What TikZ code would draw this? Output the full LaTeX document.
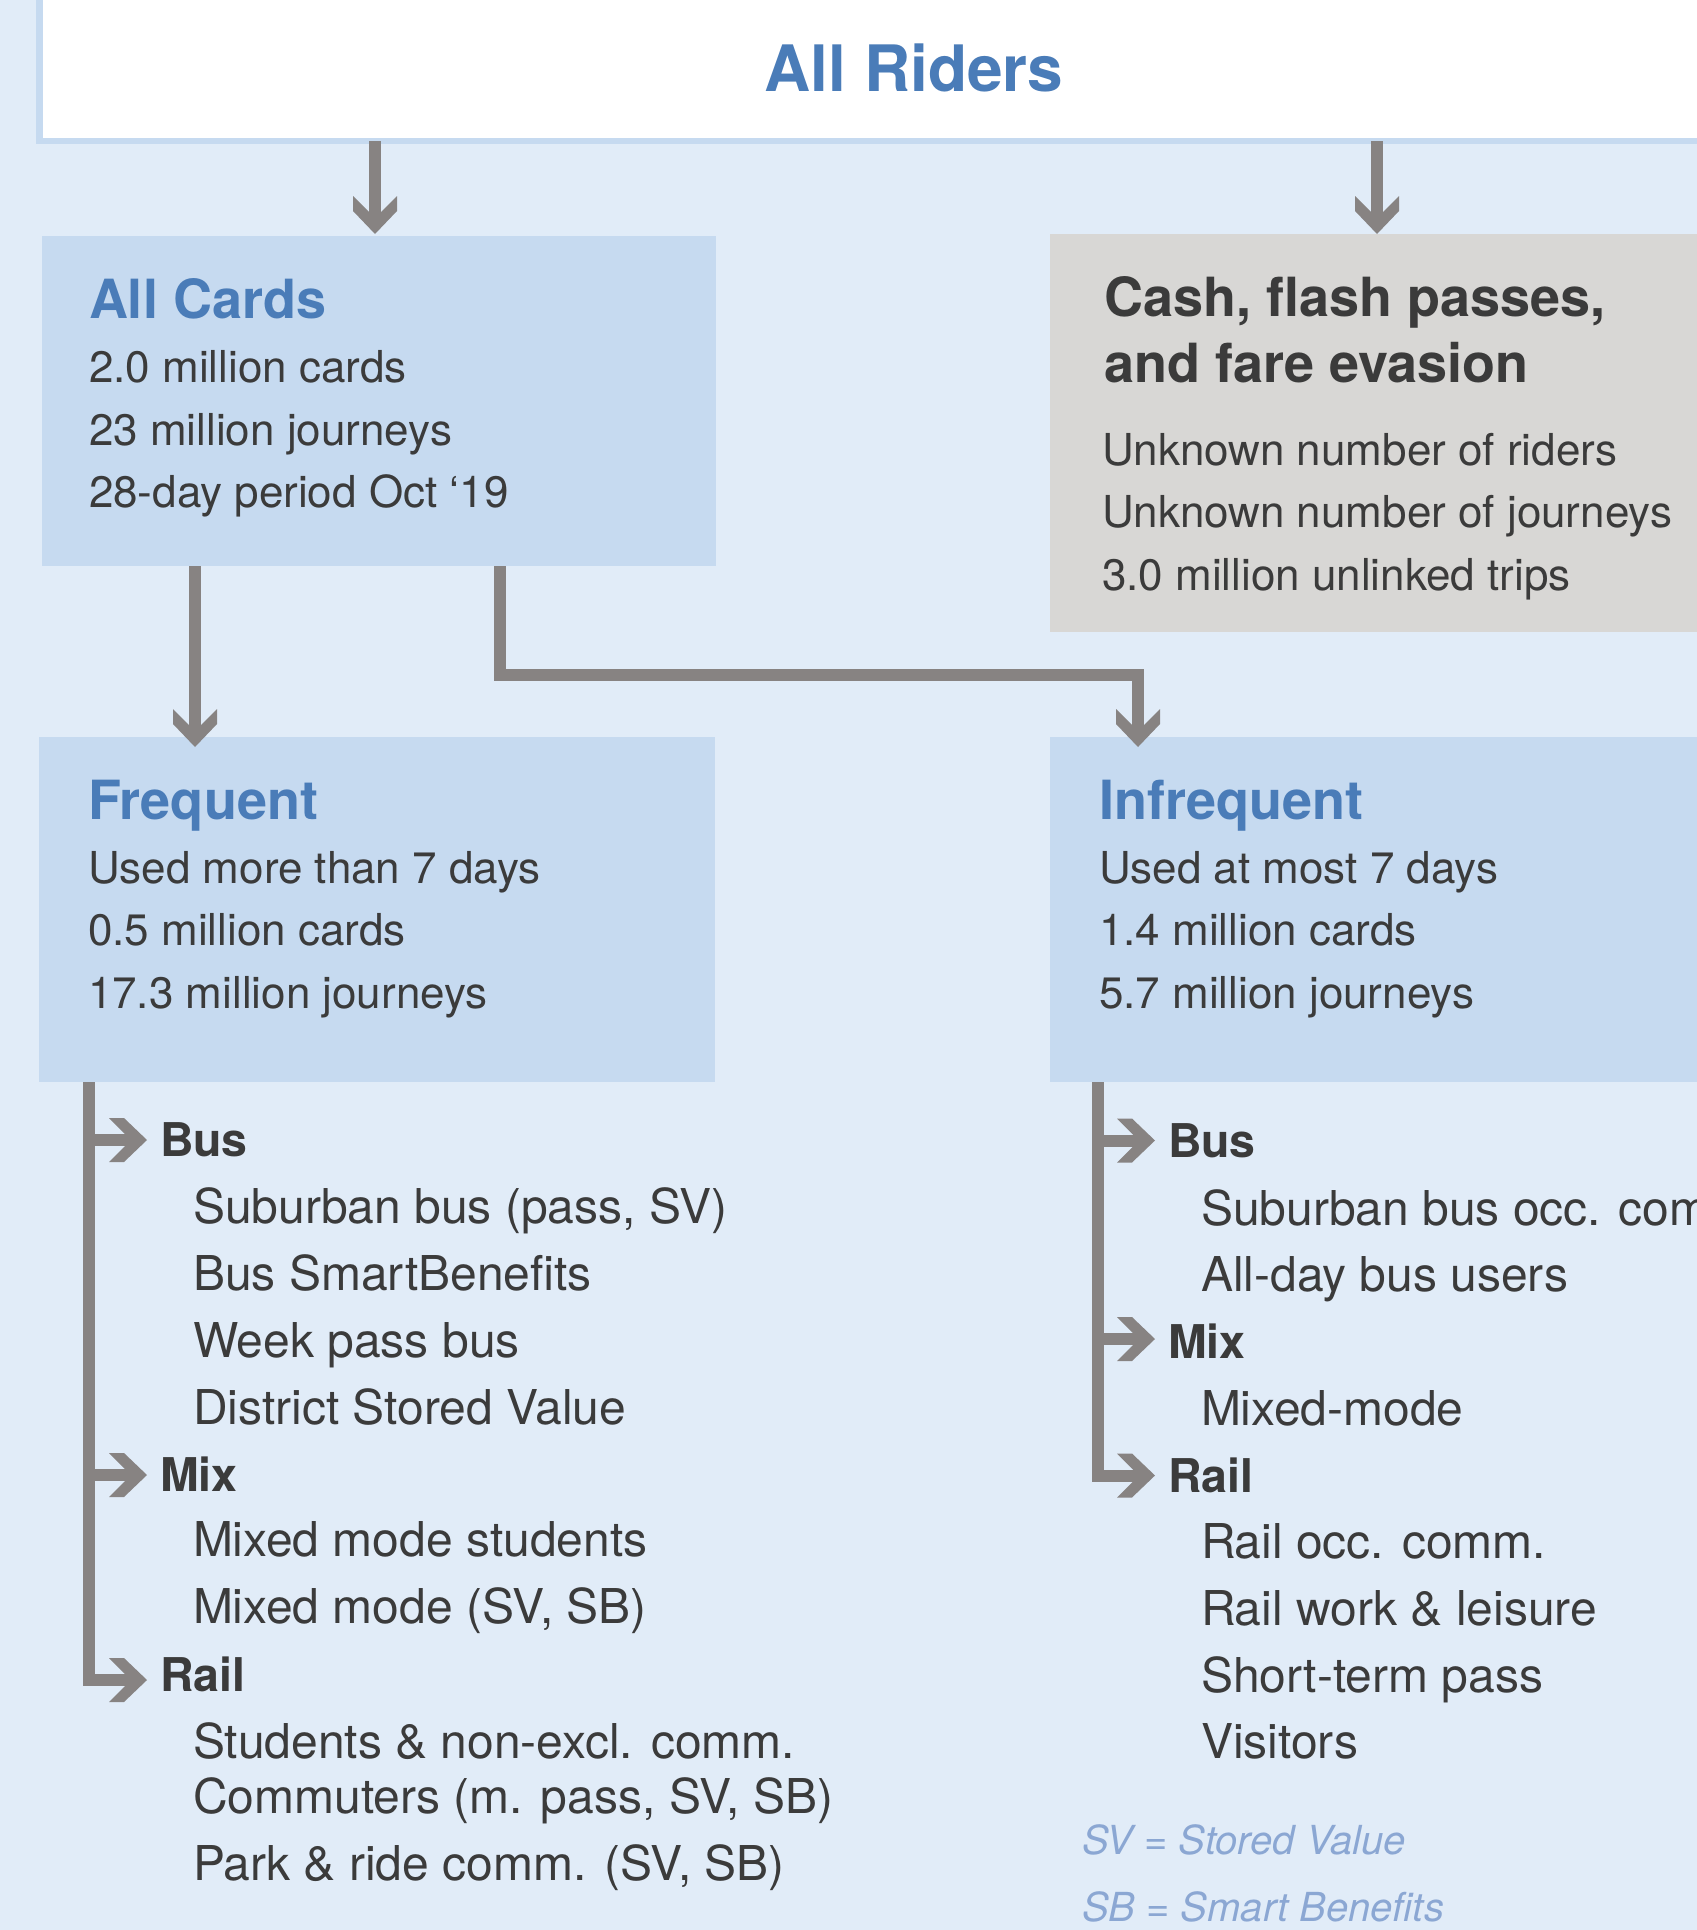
\documentclass[tikz,border=0pt]{standalone}
\usepackage{fontspec}
\setmainfont{TeX Gyre Heros}
\usetikzlibrary{arrows.meta}
\definecolor{bgblue}{HTML}{E1ECF8}
\definecolor{boxblue}{HTML}{C6DAF0}
\definecolor{graybox}{HTML}{D8D7D5}
\definecolor{arrowgray}{HTML}{878382}
\definecolor{titleblue}{HTML}{4A7CB8}
\definecolor{textdark}{HTML}{3B3B3B}
\definecolor{legendblue}{HTML}{8BA7D3}
\pgfdeclarearrow{
  name = Chev,
  setup code = {
    \pgfarrowssettipend{0pt}
    \pgfarrowssetbackend{-38pt}
    \pgfarrowssetlineend{-21pt}
    \pgfarrowssetvisualbackend{-22pt}
    \pgfarrowsupperhullpoint{-38pt}{22pt}
  },
  drawing code = {
    \pgfpathmoveto{\pgfqpoint{0pt}{0pt}}
    \pgfpathlineto{\pgfqpoint{-23pt}{22pt}}
    \pgfpathlineto{\pgfqpoint{-38pt}{22pt}}
    \pgfpathlineto{\pgfqpoint{-22pt}{6pt}}
    \pgfpathlineto{\pgfqpoint{-22pt}{-6pt}}
    \pgfpathlineto{\pgfqpoint{-38pt}{-22pt}}
    \pgfpathlineto{\pgfqpoint{-23pt}{-22pt}}
    \pgfpathclose
    \pgfusepathqfill
  }
}
\newcommand\ftitle{\fontsize{64}{70}\selectfont\bfseries}
\newcommand\fhead{\fontsize{54}{60}\selectfont\bfseries}
\newcommand\fbody{\fontsize{44}{50}\selectfont}
\newcommand\flist{\fontsize{48}{54}\selectfont}
\newcommand\flab{\fontsize{46.5}{52}\selectfont\bfseries}
\newcommand\fleg{\fontsize{40}{46}\selectfont\itshape}
\tikzset{
  box/.style={rectangle, inner sep=0pt, outer sep=0pt, anchor=north west, draw=none},
  txt/.style={anchor=base west, inner sep=0pt, outer sep=0pt, text=textdark},
  head/.style={txt, font=\fhead, text=titleblue},
  body/.style={txt, font=\fbody},
  item/.style={txt, font=\flist},
  lab/.style={txt, font=\flab},
  legend/.style={txt, font=\fleg, text=legendblue},
  conn/.style={line width=12pt, color=arrowgray, -{Chev[]}}
}
\begin{document}
\begin{tikzpicture}[x=1pt,y=-1pt]
\useasboundingbox (0,0) rectangle (1697,1930);
\clip (0,0) rectangle (1697,1930);
\fill[bgblue] (0,0) rectangle (1697,1930);

% boxes
\node[box, fill=white, draw=boxblue, line width=6.5pt, minimum width=1750pt, minimum height=201pt] (top) at (39.3,-60) {};
\node[box, fill=boxblue, minimum width=674pt, minimum height=330pt] (cards) at (42,236) {};
\node[box, fill=graybox, minimum width=654pt, minimum height=398pt] (cash) at (1050,234) {};
\node[box, fill=boxblue, minimum width=676pt, minimum height=345pt] (freq) at (39,737) {};
\node[box, fill=boxblue, minimum width=700pt, minimum height=345pt] (infreq) at (1050,737) {};

% title
\node[anchor=base, inner sep=0pt, font=\ftitle, text=titleblue] (ttl) at (914,91) {All Riders};

% All Cards
\node[head] (hcards) at (89,318) {All Cards};
\node[body] (c1) at (89,382) {2.0 million cards};
\node[body] (c2) at (89,445) {23 million journeys};
\node[body] (c3) at (89,507) {28-day period Oct ‘19};

% Cash
\node[txt, font=\fhead] (hcash1) at (1104,316) {Cash, flash passes,};
\node[txt, font=\fhead] (hcash2) at (1104,382) {and fare evasion};
\node[body] (u1) at (1102,465) {Unknown number of riders};
\node[body] (u2) at (1102,527) {Unknown number of journeys};
\node[body] (u3) at (1102,590) {3.0 million unlinked trips};

% Frequent
\node[head] (hfreq) at (88,819) {Frequent};
\node[body] (f1) at (88,883) {Used more than 7 days};
\node[body] (f2) at (88,945) {0.5 million cards};
\node[body] (f3) at (88,1008) {17.3 million journeys};

% Infrequent
\node[head] (hinf) at (1099,819) {Infrequent};
\node[body] (i1) at (1099,883) {Used at most 7 days};
\node[body] (i2) at (1099,945) {1.4 million cards};
\node[body] (i3) at (1099,1008) {5.7 million journeys};

% left list
\node[lab] (lbus) at (160,1156) {Bus};
\node[item] (l1) at (193,1223) {Suburban bus (pass, SV)};
\node[item] (l2) at (193,1290) {Bus SmartBenefits};
\node[item] (l3) at (193,1357) {Week pass bus};
\node[item] (l4) at (193,1424) {District Stored Value};
\node[lab] (lmix) at (160,1491) {Mix};
\node[item] (l5) at (193,1556) {Mixed mode students};
\node[item] (l6) at (193,1623) {Mixed mode (SV, SB)};
\node[lab] (lrail) at (160,1691) {Rail};
\node[item] (l7) at (193,1758) {Students \& non-excl. comm.};
\node[item] (l8) at (193,1813) {Commuters (m. pass, SV, SB)};
\node[item] (l9) at (193,1880) {Park \& ride comm. (SV, SB)};

% right list
\node[lab] (rbus) at (1168,1157) {Bus};
\node[item] (r1) at (1201,1225) {Suburban bus occ. comm.};
\node[item] (r2) at (1201,1291) {All-day bus users};
\node[lab] (rmix) at (1168,1358) {Mix};
\node[item] (r3) at (1201,1425) {Mixed-mode};
\node[lab] (rrail) at (1168,1492) {Rail};
\node[item] (r4) at (1201,1558) {Rail occ. comm.};
\node[item] (r5) at (1201,1625) {Rail work \& leisure};
\node[item] (r6) at (1201,1692) {Short-term pass};
\node[item] (r7) at (1201,1758) {Visitors};

% legend
\node[legend] (lg1) at (1082,1854) {SV = Stored Value};
\node[legend] (lg2) at (1082,1921) {SB = Smart Benefits};

% connector end points
\coordinate (t1) at ([xshift=-4pt,yshift=2pt]cards.north);
\coordinate (a1) at ([xshift=153pt]cards.south west);
\coordinate (b1) at ([xshift=156pt,yshift=-10pt]freq.north west);
\coordinate (a2) at ([xshift=458pt]cards.south west);
\coordinate (b2) at ([xshift=88pt,yshift=-10pt]infreq.north west);
\coordinate (ft) at ([xshift=50pt]freq.south west);
\coordinate (lbt) at ([xshift=-13pt,yshift=16pt]lbus.base west);
\coordinate (lmt) at ([xshift=-13pt,yshift=16pt]lmix.base west);
\coordinate (lrt) at ([xshift=-13pt,yshift=11pt]lrail.base west);
\coordinate (rt) at ([xshift=48pt]infreq.south west);
\coordinate (rbt) at ([xshift=-13pt,yshift=16.5pt]rbus.base west);
\coordinate (rmt) at ([xshift=-13pt,yshift=19pt]rmix.base west);
\coordinate (rrt) at ([xshift=-13pt,yshift=16.5pt]rrail.base west);

% connectors
\draw[conn] (t1 |- top.south) -- (t1);
\draw[conn] (cash.north |- top.south) -- (cash.north);
\draw[conn] (a1) -- (b1);
\draw[conn] (a2) -- ++(0,109) -| (b2);
\draw[conn] (ft) |- (lrt);
\draw[conn] (ft |- lbt) -- (lbt);
\draw[conn] (ft |- lmt) -- (lmt);
\draw[conn] (rt) |- (rrt);
\draw[conn] (rt |- rbt) -- (rbt);
\draw[conn] (rt |- rmt) -- (rmt);
\end{tikzpicture}
\end{document}
